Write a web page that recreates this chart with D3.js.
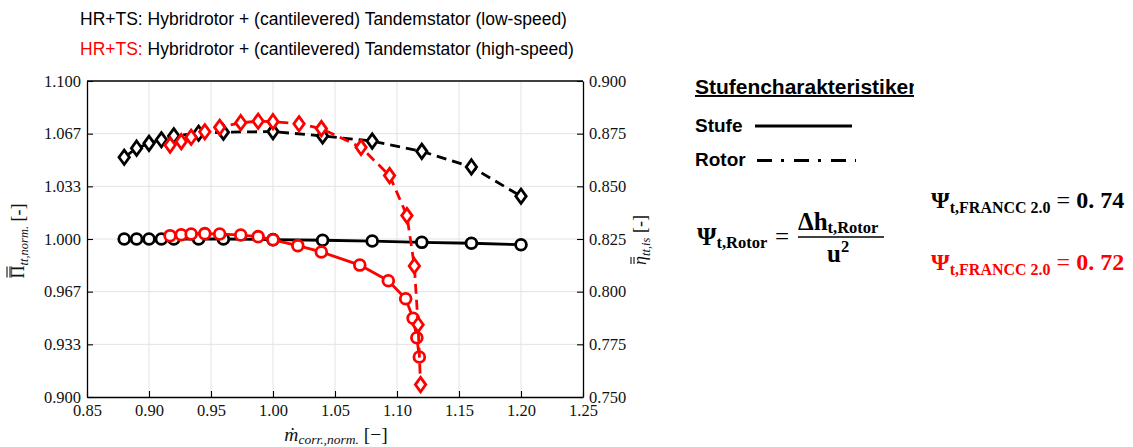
<!DOCTYPE html>
<html>
<head>
<meta charset="utf-8">
<script src="https://cdn.jsdelivr.net/npm/d3@7"></script>
<style>
  body { margin: 0; background: #fff; }
  svg { display: block; }
</style>
</head>
<body>
<svg id="chart" width="1133" height="447"></svg>
<script>
// Low-speed operating points (black)
const lsFlow = [0.88, 0.89, 0.90, 0.91, 0.92, 0.94, 0.96, 1.00, 1.04, 1.08, 1.12, 1.16, 1.20];
const lsPi   = [1.000, 1.000, 1.000, 1.000, 1.000, 1.000, 1.000, 0.9996, 0.9992, 0.9987, 0.9979, 0.9973, 0.9964];
const lsEta  = [0.8638, 0.8681, 0.8704, 0.8721, 0.8740, 0.8752, 0.8757, 0.8760, 0.8739, 0.8715, 0.8666, 0.8592, 0.8453];

// High-speed operating points (red)
const hsFlowPi  = [0.917, 0.926, 0.934, 0.945, 0.957, 0.974, 0.988, 1.000, 1.020, 1.039, 1.070, 1.093, 1.107, 1.113, 1.116, 1.118];
const hsPi      = [1.0021, 1.0027, 1.0032, 1.0034, 1.0032, 1.0025, 1.0015, 0.9995, 0.9958, 0.9918, 0.9835, 0.9736, 0.9622, 0.9498, 0.9375, 0.9253];
const hsFlowEta = [0.917, 0.926, 0.934, 0.945, 0.957, 0.974, 0.988, 1.000, 1.021, 1.039, 1.071, 1.094, 1.108, 1.114, 1.117, 1.119];
const hsEta     = [0.8696, 0.8712, 0.8733, 0.8759, 0.8780, 0.8802, 0.8809, 0.8807, 0.8797, 0.8774, 0.8685, 0.8551, 0.8361, 0.8122, 0.7843, 0.7559];

// Axis ticks
const flowTicks = [0.85, 0.90, 0.95, 1.00, 1.05, 1.10, 1.15, 1.20, 1.25];
const piTicks = [0.9, 0.93333, 0.96667, 1.0, 1.03333, 1.06667, 1.1];
const piTickLabels = ["0.900", "0.933", "0.967", "1.000", "1.033", "1.067", "1.100"];
const etaTicks = [0.750, 0.775, 0.800, 0.825, 0.850, 0.875, 0.900];

const svg = d3.select("#chart");
const plot = { left: 87, right: 583, top: 81, bottom: 397 };

const x = d3.scaleLinear().domain([0.85, 1.25]).range([plot.left, plot.right]);
const yPi = d3.scaleLinear().domain([0.9, 1.1]).range([plot.bottom, plot.top]);
const yEta = d3.scaleLinear().domain([0.75, 0.9]).range([plot.bottom, plot.top]);

const serif = "'Liberation Serif', 'Times New Roman', serif";
const sans = "'Liberation Sans', Arial, sans-serif";

// ---------- grid ----------
const grid = svg.append("g").attr("stroke", "#e3e3e3").attr("stroke-width", 1);
grid.selectAll("line.vx").data(flowTicks.slice(1, -1)).join("line")
  .attr("x1", d => x(d)).attr("x2", d => x(d))
  .attr("y1", plot.top).attr("y2", plot.bottom);
grid.selectAll("line.hy").data(piTicks.slice(1, -1)).join("line")
  .attr("x1", plot.left).attr("x2", plot.right)
  .attr("y1", d => yPi(d)).attr("y2", d => yPi(d));

// ---------- axes ----------
function styleAxis(g) {
  g.selectAll("path.domain").attr("stroke", "#000").attr("stroke-width", 1.3);
  g.selectAll(".tick line").attr("stroke", "#000").attr("stroke-width", 1.1);
  g.selectAll("text").attr("font-family", serif).attr("font-size", 16.5).attr("fill", "#111");
}

svg.append("g")
  .attr("transform", `translate(0,${plot.bottom})`)
  .call(d3.axisBottom(x).tickValues(flowTicks).tickFormat(d3.format(".2f"))
    .tickSizeInner(-6).tickSizeOuter(0).tickPadding(7))
  .call(styleAxis);

svg.append("g")
  .attr("transform", `translate(${plot.left},0)`)
  .call(d3.axisLeft(yPi).tickValues(piTicks).tickFormat((d, i) => piTickLabels[i])
    .tickSizeInner(-6).tickSizeOuter(0).tickPadding(6))
  .call(styleAxis);

svg.append("g")
  .attr("transform", `translate(${plot.right},0)`)
  .call(d3.axisRight(yEta).tickValues(etaTicks).tickFormat(d3.format(".3f"))
    .tickSizeInner(-6).tickSizeOuter(0).tickPadding(6))
  .call(styleAxis);

// top frame line
svg.append("line")
  .attr("x1", plot.left).attr("x2", plot.right)
  .attr("y1", plot.top).attr("y2", plot.top)
  .attr("stroke", "#000").attr("stroke-width", 1.3);

// ---------- axis titles ----------
function overbars(textSel, idx, gap1, gap2) {
  // two bars above the glyph at position idx (in the text's own coordinates)
  const node = textSel.node();
  const box = node.getExtentOfChar(idx);
  const parent = d3.select(node.parentNode);
  [gap1, gap2].forEach(off => {
    parent.append("line")
      .attr("x1", box.x + 1).attr("x2", box.x + box.width - 1)
      .attr("y1", box.y + off).attr("y2", box.y + off)
      .attr("stroke", "#111").attr("stroke-width", 1.1);
  });
}

// left: total pressure ratio
const gL = svg.append("g").attr("transform", "translate(24,241) rotate(-90)");
const tL = gL.append("text").attr("text-anchor", "middle")
  .attr("font-family", serif).attr("font-size", 18).attr("fill", "#111");
tL.append("tspan").text("Π");
tL.append("tspan").attr("font-size", 12.5).attr("font-style", "italic").attr("dy", 4).text("tt,norm.");
tL.append("tspan").attr("dy", -4).text(" [-]");
overbars(tL, 0, -1, 2);

// right: isentropic efficiency
const gR = svg.append("g").attr("transform", "translate(646,240) rotate(-90)");
const tR = gR.append("text").attr("text-anchor", "middle")
  .attr("font-family", serif).attr("font-size", 18).attr("fill", "#111");
tR.append("tspan").attr("font-style", "italic").text("η");
tR.append("tspan").attr("font-size", 12.5).attr("font-style", "italic").attr("dy", 4).text("tt,is");
tR.append("tspan").attr("dy", -4).text(" [-]");
overbars(tR, 0, 1, 4);

// bottom: corrected mass flow
const tX = svg.append("text").attr("x", 336).attr("y", 441).attr("text-anchor", "middle")
  .attr("font-family", serif).attr("font-size", 19.5).attr("fill", "#111");
tX.append("tspan").attr("font-style", "italic").text("ṁ");
tX.append("tspan").attr("font-size", 13.5).attr("font-style", "italic").attr("dy", 3).text("corr.,norm.");
tX.append("tspan").attr("dy", -3).text(" [−]");

// ---------- series ----------
const diamond = "M0,-7.2L5.2,0L0,7.2L-5.2,0Z";

function drawSeries(xs, ys, yScale, color, dashed, marker) {
  const pts = xs.map((v, i) => [v, ys[i]]);
  const line = d3.line().x(d => x(d[0])).y(d => yScale(d[1]));
  svg.append("path").datum(pts)
    .attr("d", line)
    .attr("fill", "none").attr("stroke", color).attr("stroke-width", 2.8)
    .attr("stroke-dasharray", dashed ? "10,6" : null)
    .attr("stroke-linejoin", "round");
  const g = svg.append("g");
  if (marker === "circle") {
    g.selectAll("circle").data(pts).join("circle")
      .attr("cx", d => x(d[0])).attr("cy", d => yScale(d[1])).attr("r", 5.4)
      .attr("fill", "#fff").attr("stroke", color).attr("stroke-width", 2.8);
  } else {
    g.selectAll("path").data(pts).join("path")
      .attr("d", diamond)
      .attr("transform", d => `translate(${x(d[0])},${yScale(d[1])})`)
      .attr("fill", "#fff").attr("stroke", color).attr("stroke-width", 2.8)
      .attr("stroke-linejoin", "miter");
  }
}

drawSeries(lsFlow, lsPi, yPi, "#000", false, "circle");
drawSeries(lsFlow, lsEta, yEta, "#000", true, "diamond");
drawSeries(hsFlowPi, hsPi, yPi, "#ff0000", false, "circle");
drawSeries(hsFlowEta, hsEta, yEta, "#ff0000", true, "diamond");

// ---------- header ----------
const header = svg.append("g").attr("font-family", sans).attr("font-size", 17.5).attr("fill", "#000");
header.append("text").attr("x", 80).attr("y", 25)
  .text("HR+TS: Hybridrotor + (cantilevered) Tandemstator (low-speed)");
const h2 = header.append("text").attr("x", 80).attr("y", 55);
h2.append("tspan").attr("fill", "#ff0000").text("HR+TS:");
h2.append("tspan").text(" Hybridrotor + (cantilevered) Tandemstator (high-speed)");

// ---------- line-style key ----------
svg.append("clipPath").attr("id", "keyClip")
  .append("rect").attr("x", 680).attr("y", 70).attr("width", 234).attr("height", 40);
const key = svg.append("g").attr("font-family", sans).attr("font-weight", "bold").attr("font-size", 19).attr("fill", "#000");
key.append("text").attr("x", 695).attr("y", 94).attr("clip-path", "url(#keyClip)")
  .attr("font-size", 19.5).attr("textLength", 226).attr("lengthAdjust", "spacingAndGlyphs")
  .attr("text-decoration", "underline").text("Stufencharakteristiken");
key.append("text").attr("x", 695).attr("y", 132).text("Stufe");
key.append("line").attr("x1", 755).attr("x2", 852).attr("y1", 126).attr("y2", 126)
  .attr("stroke", "#000").attr("stroke-width", 3);
key.append("text").attr("x", 695).attr("y", 166).text("Rotor");
key.append("line").attr("x1", 757).attr("x2", 856).attr("y1", 160.5).attr("y2", 160.5)
  .attr("stroke", "#000").attr("stroke-width", 3).attr("stroke-dasharray", "15,9,3,10");

// ---------- loading coefficient ----------
const f = svg.append("g").attr("font-family", serif).attr("font-weight", "bold").attr("fill", "#000");
const psi = f.append("text").attr("x", 697).attr("y", 245).attr("font-size", 25);
psi.append("tspan").text("Ψ");
psi.append("tspan").attr("font-size", 16.5).attr("dy", 3).text("t,Rotor");
f.append("text").attr("x", 775).attr("y", 245).attr("font-size", 25).attr("font-weight", "normal").text("=");
const num = f.append("text").attr("x", 798).attr("y", 230).attr("font-size", 25);
num.append("tspan").text("Δh");
num.append("tspan").attr("font-size", 16.5).attr("dy", 3).text("t,Rotor");
f.append("line").attr("x1", 798).attr("x2", 884).attr("y1", 237).attr("y2", 237)
  .attr("stroke", "#000").attr("stroke-width", 1.5);
const den = f.append("text").attr("x", 827).attr("y", 262).attr("font-size", 25);
den.append("tspan").text("u");
den.append("tspan").attr("font-size", 16.5).attr("dy", -10).text("2");

function psiValue(yBase, color, value) {
  const t = f.append("text").attr("x", 931).attr("y", yBase).attr("font-size", 24).attr("fill", color);
  t.append("tspan").text("Ψ");
  t.append("tspan").attr("font-size", 16).attr("dy", 5).text("t,FRANCC 2.0");
  t.append("tspan").attr("dy", -5).attr("dx", 6).attr("font-weight", "normal").text("=");
  t.append("tspan").attr("dx", 6).text(value[0] + ".");
  t.append("tspan").attr("dx", 6).text(value.slice(2));
}
psiValue(208, "#000", "0.74");
psiValue(270, "#ff0000", "0.72");
</script>
</body>
</html>
